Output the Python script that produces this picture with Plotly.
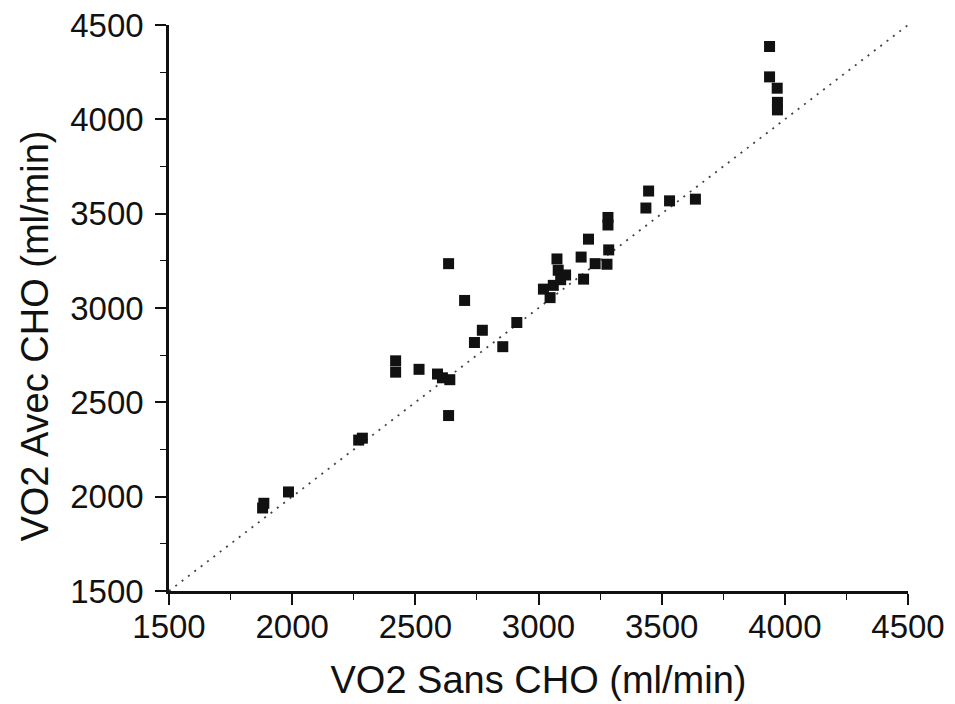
import plotly.graph_objects as go

# VO2 without CHO (x) and with CHO (y), ml/min
vo2_sans = [1880, 1885, 1985, 2270, 2285, 2420, 2420, 2515, 2590, 2610, 2640, 2635, 2635,
            2700, 2740, 2772, 2855, 2912, 3020, 3047, 3060, 3075, 3080, 3090, 3110,
            3183, 3173, 3203, 3230, 3278, 3285, 3282, 3282, 3436, 3447, 3532, 3637,
            3938, 3938, 3969, 3970, 3970]
vo2_avec = [1940, 1965, 2025, 2300, 2310, 2720, 2660, 2675, 2650, 2630, 2620, 2430, 3235,
            3040, 2817, 2882, 2795, 2923, 3100, 3055, 3120, 3260, 3200, 3150, 3175,
            3153, 3270, 3365, 3235, 3232, 3308, 3480, 3440, 3530, 3620, 3568, 3577,
            4386, 4225, 4165, 4090, 4050]

identity = [1500, 4500]
x_ticks = [1500, 2000, 2500, 3000, 3500, 4000, 4500]
y_ticks = [1500, 2000, 2500, 3000, 3500, 4000, 4500]
x_title = "VO2 Sans CHO (ml/min)"
y_title = "VO2 Avec CHO (ml/min)"

fig = go.Figure()
fig.add_trace(go.Scatter(x=identity, y=identity, mode="lines",
                         line=dict(color="#444444", width=1.8, dash="2px,6px"),
                         hoverinfo="skip", showlegend=False))
fig.add_trace(go.Scatter(x=vo2_sans, y=vo2_avec, mode="markers",
                         marker=dict(symbol="square", size=11, color="#111111"),
                         showlegend=False))

font = "Liberation Sans, Arial, sans-serif"
axis_common = dict(
    showgrid=False, zeroline=False, showline=True, linecolor="#111111", linewidth=2.5,
    ticks="outside", ticklen=11, tickwidth=1.8, tickcolor="#111111",
    minor=dict(ticks="outside", ticklen=6, tickwidth=1.4, tickcolor="#111111", dtick=250),
    tickfont=dict(family=font, size=33, color="#111111"),
    ticklabeloverflow="allow",
)
fig.update_xaxes(range=[1500, 4500], tickvals=x_ticks, ticktext=[str(v) for v in x_ticks],
                 ticklabelstandoff=-6,
                 title=dict(text=x_title, font=dict(family=font, size=38, color="#111111"),
                            standoff=23),
                 **axis_common)
fig.update_yaxes(range=[1500, 4500], tickvals=y_ticks, ticktext=[str(v) for v in y_ticks],
                 ticklabelstandoff=5,
                 **axis_common)
# y title drawn as a rotated annotation (it sits below the axis centre in the original)
fig.add_annotation(text=y_title, textangle=-90, xref="paper", yref="paper",
                   x=-0.181, y=0.45, xanchor="center", yanchor="middle", showarrow=False,
                   font=dict(family=font, size=38, color="#111111"))
# the page body adds an 8 px offset, so the figure is 8 px smaller and shifted
fig.update_layout(width=947, height=696, plot_bgcolor="white", paper_bgcolor="white",
                  margin=dict(l=161, r=47, t=17, b=113, autoexpand=False))
fig.write_html("out.html")
